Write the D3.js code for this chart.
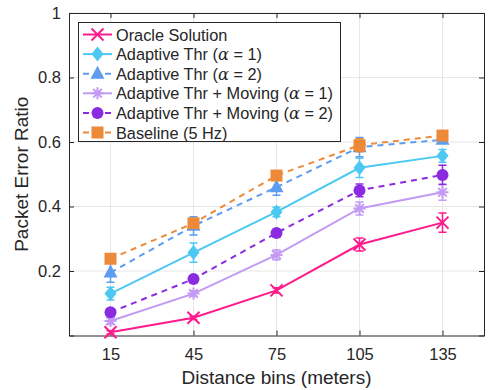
<!DOCTYPE html>
<html>
<head>
<meta charset="utf-8">
<script src="https://cdn.jsdelivr.net/npm/d3@7"></script>
<style>
  body { margin: 0; background: #fff; }
  text { font-family: "Liberation Sans", Helvetica, Arial, sans-serif; fill: #262626; }
</style>
</head>
<body>
<div id="chart"></div>
<script>
// DATA
const bins = [15, 45, 75, 105, 135];
const yTicks = [0.2, 0.4, 0.6, 0.8, 1];

const oracle = [0.01, 0.055, 0.14, 0.282, 0.35];
const oracleErr = [0.005, 0.005, 0.008, 0.02, 0.03];
const thr1 = [0.13, 0.257, 0.383, 0.52, 0.557];
const thr1Err = [0.02, 0.03, 0.015, 0.03, 0.02];
const thr2 = [0.195, 0.34, 0.46, 0.584, 0.607];
const thr2Err = [0.03, 0.028, 0.025, 0.03, 0.01];
const mov1 = [0.045, 0.13, 0.25, 0.394, 0.444];
const mov1Err = [0.01, 0.008, 0.015, 0.02, 0.025];
const mov2 = [0.072, 0.175, 0.318, 0.45, 0.498];
const mov2Err = [0.01, 0.01, 0.01, 0.02, 0.03];
const base = [0.238, 0.348, 0.496, 0.59, 0.62];
const baseErr = [0.005, 0.01, 0.005, 0.02, 0.005];

const series = [
  { name: 'Oracle Solution', alpha: null, vals: oracle, err: oracleErr, color: '#ff1a8c', dash: null, marker: 'x' },
  { name: 'Adaptive Thr (', alpha: '1', vals: thr1, err: thr1Err, color: '#4cc8f2', dash: null, marker: 'diamond' },
  { name: 'Adaptive Thr (', alpha: '2', vals: thr2, err: thr2Err, color: '#5e9cf0', dash: '6,5', marker: 'triangle' },
  { name: 'Adaptive Thr + Moving (', alpha: '1', vals: mov1, err: mov1Err, color: '#c39af4', dash: null, marker: 'star' },
  { name: 'Adaptive Thr + Moving (', alpha: '2', vals: mov2, err: mov2Err, color: '#8a2be2', dash: '6,5', marker: 'circle' },
  { name: 'Baseline (5 Hz)', alpha: null, vals: base, err: baseErr, color: '#ec8a3a', dash: '6,5', marker: 'square' },
];

const W = 488, H = 390;
const m = { left: 69, right: 4, top: 13, bottom: 55 };

const svg = d3.select('#chart').append('svg').attr('width', W).attr('height', H);

// SCALES
const x = d3.scaleLinear().domain([0, 150]).range([m.left, W - m.right]);
const y = d3.scaleLinear().domain([0, 1]).range([H - m.bottom + 0.5, m.top]);

// GRID
const grid = svg.append('g').attr('stroke', '#e6e6e6').attr('stroke-width', 1);
bins.forEach(b => grid.append('line').attr('x1', x(b)).attr('x2', x(b)).attr('y1', y(0)).attr('y2', y(1)));
yTicks.forEach(t => grid.append('line').attr('x1', x(0)).attr('x2', x(150)).attr('y1', y(t)).attr('y2', y(t)));

// AXES
const axB = svg.append('g').attr('transform', `translate(0,${y(0)})`)
  .call(d3.axisBottom(x).tickValues(bins).tickSize(-5).tickPadding(13));
const axL = svg.append('g').attr('transform', `translate(${x(0)},0)`)
  .call(d3.axisLeft(y).tickValues(yTicks).tickFormat(d3.format('~g')).tickSize(-5).tickPadding(8));
const axT = svg.append('g').attr('transform', `translate(0,${y(1)})`)
  .call(d3.axisTop(x).tickValues(bins).tickSize(-5).tickFormat(''));
const axR = svg.append('g').attr('transform', `translate(${x(150)},0)`)
  .call(d3.axisRight(y).tickValues(yTicks).tickSize(-5).tickFormat(''));
[axB, axL, axT, axR].forEach(a => {
  a.select('.domain').attr('stroke', '#262626');
  a.selectAll('.tick line').attr('stroke', '#262626');
  a.selectAll('.tick text').attr('font-size', 16.5).attr('fill', '#262626')
    .style('font-family', '"Liberation Sans", Helvetica, Arial, sans-serif');
});

// LABELS
svg.append('text').attr('x', (x(0) + x(150)) / 2).attr('y', 384).attr('text-anchor', 'middle')
  .attr('font-size', 19).text('Distance bins (meters)');
svg.append('text').attr('transform', `translate(28,${(y(0) + y(1)) / 2}) rotate(-90)`)
  .attr('text-anchor', 'middle').attr('font-size', 19).text('Packet Error Ratio');

// MARKERS
function marker(g, type, cx, cy, color) {
  const s = 6;
  if (type === 'x') {
    g.append('path').attr('d', `M${cx - s},${cy - s}L${cx + s},${cy + s}M${cx - s},${cy + s}L${cx + s},${cy - s}`)
      .attr('stroke', color).attr('stroke-width', 2).attr('fill', 'none');
  } else if (type === 'star') {
    const d = s * 0.72;
    g.append('path').attr('d', `M${cx - s},${cy}L${cx + s},${cy}M${cx},${cy - s}L${cx},${cy + s}` +
      `M${cx - d},${cy - d}L${cx + d},${cy + d}M${cx - d},${cy + d}L${cx + d},${cy - d}`)
      .attr('stroke', color).attr('stroke-width', 2).attr('fill', 'none');
  } else if (type === 'diamond') {
    g.append('path').attr('d', `M${cx},${cy - 7.5}L${cx + 6},${cy}L${cx},${cy + 7.5}L${cx - 6},${cy}Z`).attr('fill', color);
  } else if (type === 'triangle') {
    g.append('path').attr('d', `M${cx},${cy - 8}L${cx + 7},${cy + 5}L${cx - 7},${cy + 5}Z`).attr('fill', color);
  } else if (type === 'circle') {
    g.append('circle').attr('cx', cx).attr('cy', cy).attr('r', 6).attr('fill', color);
  } else if (type === 'square') {
    g.append('rect').attr('x', cx - 6).attr('y', cy - 6).attr('width', 12).attr('height', 12).attr('fill', color);
  }
}

// SERIES
const line = d3.line().x((d, i) => x(bins[i])).y(d => y(d));
series.forEach(s => {
  const g = svg.append('g');
  g.append('path').datum(s.vals).attr('d', line).attr('fill', 'none')
    .attr('stroke', s.color).attr('stroke-width', 2).attr('stroke-dasharray', s.dash);
  s.vals.forEach((v, i) => {
    const cx = x(bins[i]);
    const y1 = y(v - s.err[i]), y2 = y(v + s.err[i]);
    g.append('path').attr('d', `M${cx},${y1}L${cx},${y2}M${cx - 4},${y1}L${cx + 4},${y1}M${cx - 4},${y2}L${cx + 4},${y2}`)
      .attr('stroke', s.color).attr('stroke-width', 1.5).attr('fill', 'none');
    marker(g, s.marker, cx, y(v), s.color);
  });
});

// LEGEND
const lg = svg.append('g');
lg.append('rect').attr('x', 78.5).attr('y', 22.5).attr('width', 262).attr('height', 119)
  .attr('fill', '#fff').attr('stroke', '#262626').attr('stroke-width', 1);
series.forEach((s, i) => {
  const ly = 34.5 + i * 19.6;
  lg.append('line').attr('x1', 83).attr('x2', 112).attr('y1', ly).attr('y2', ly)
    .attr('stroke', s.color).attr('stroke-width', 2).attr('stroke-dasharray', s.dash);
  marker(lg, s.marker, 97.5, ly, s.color);
  const t = lg.append('text').attr('x', 116).attr('y', ly + 6).attr('font-size', 16.3);
  t.append('tspan').text(s.name);
  if (s.alpha) {
    t.append('tspan').attr('font-family', '"DejaVu Serif", "Liberation Serif", serif').attr('font-style', 'italic').text('α');
    t.append('tspan').text(` = ${s.alpha})`);
  }
});
</script>
</body>
</html>
